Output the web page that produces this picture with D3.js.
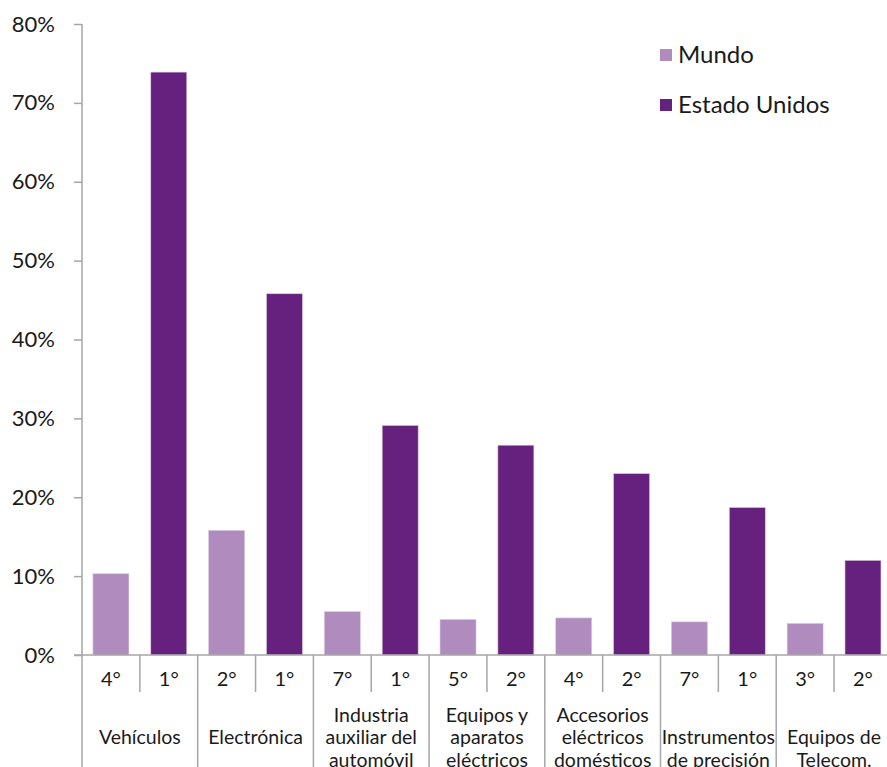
<!DOCTYPE html>
<html>
<head>
<meta charset="utf-8">
<script src="https://cdn.jsdelivr.net/npm/d3@7"></script>
<style>
	html, body { margin: 0; padding: 0; background: #fff; overflow: hidden; }
	text { font-family: Lato, "Open Sans", sans-serif; fill: #1a1a1a; }
</style>
</head>
<body>
<script>
	'use strict';

	// DATA //

	var categories = [
		'Vehículos',
		'Electrónica',
		'Industria\nauxiliar del\nautomóvil',
		'Equipos y\naparatos\neléctricos',
		'Accesorios\neléctricos\ndomésticos',
		'Instrumentos\nde precisión',
		'Equipos de\nTelecom.'
	];
	var seriesNames = [ 'Mundo', 'Estado Unidos' ];
	var mundo = [ 10.3, 15.8, 5.5, 4.5, 4.7, 4.2, 4.0 ];
	var estadosUnidos = [ 73.9, 45.8, 29.1, 26.6, 23.0, 18.7, 12.0 ];
	var rankMundo = [ '4°', '2°', '7°', '5°', '4°', '7°', '3°' ];
	var rankEEUU = [ '1°', '1°', '1°', '2°', '2°', '1°', '2°' ];
	var yTicks = [ 0, 10, 20, 30, 40, 50, 60, 70, 80 ];


	// VARIABLES //

	var WIDTH = 887,
		HEIGHT = 767,
		LEFT = 82,
		TOP = 24,
		BASE = 655,
		CAT_WIDTH = 115.7,
		COLORS = [ '#af8cbd', '#66217f' ],
		AXIS = '#a6a6a6';

	var svg = d3.select( 'body' ).append( 'svg' )
		.attr( 'width', WIDTH )
		.attr( 'height', HEIGHT );

	// Scales:
	var x0 = d3.scaleBand()
		.domain( d3.range( categories.length ) )
		.range( [ LEFT, LEFT + CAT_WIDTH * categories.length ] );

	var x1 = d3.scaleBand()
		.domain( seriesNames )
		.range( [ 0, x0.bandwidth() ] )
		.paddingInner( 0.378 )
		.paddingOuter( 0.189 );

	var y = d3.scaleLinear()
		.domain( [ 0, 80 ] )
		.range( [ BASE, TOP ] );

	var color = d3.scaleOrdinal()
		.domain( seriesNames )
		.range( COLORS );

	// Rows for bars:
	var rows = categories.map( function( c, i ) {
		return [
			{ cat: i, s: seriesNames[ 0 ], v: mundo[ i ], rank: rankMundo[ i ] },
			{ cat: i, s: seriesNames[ 1 ], v: estadosUnidos[ i ], rank: rankEEUU[ i ] }
		];
	});
	var flat = [].concat.apply( [], rows );

	// Y axis:
	var yAxis = d3.axisLeft( y )
		.tickValues( yTicks )
		.tickSize( 8 )
		.tickPadding( 19 )
		.tickFormat( function( d ) { return d + '%'; } );

	var gy = svg.append( 'g' )
		.attr( 'transform', 'translate(' + LEFT + ',0)' )
		.call( yAxis );
	gy.select( '.domain' ).remove();
	gy.selectAll( '.tick line' )
		.attr( 'stroke', AXIS )
		.attr( 'stroke-width', 1.5 );
	gy.selectAll( '.tick text' )
		.style( 'font-family', 'Lato, "Open Sans", sans-serif' )
		.style( 'font-size', '22px' )
		.attr( 'fill', '#1a1a1a' );

	// Bars:
	svg.append( 'g' )
		.selectAll( 'rect' )
		.data( flat )
		.enter().append( 'rect' )
		.attr( 'x', function( d ) { return x0( d.cat ) + x1( d.s ); } )
		.attr( 'y', function( d ) { return y( d.v ); } )
		.attr( 'width', x1.bandwidth() )
		.attr( 'height', function( d ) { return BASE - y( d.v ); } )
		.attr( 'fill', function( d ) { return color( d.s ); } )
		.attr( 'stroke', '#d9c9e0' )
		.attr( 'stroke-width', 0.6 );

	// Axis lines:
	var axes = svg.append( 'g' )
		.attr( 'stroke', AXIS )
		.attr( 'stroke-width', 1.5 );

	// vertical axis line (continues down as first separator):
	axes.append( 'line' )
		.attr( 'x1', LEFT ).attr( 'x2', LEFT )
		.attr( 'y1', TOP ).attr( 'y2', HEIGHT + 10 );

	// baseline:
	axes.append( 'line' )
		.attr( 'x1', LEFT - 8 ).attr( 'x2', x0.range()[ 1 ] )
		.attr( 'y1', BASE ).attr( 'y2', BASE );

	// Category separators:
	axes.selectAll( '.sep' )
		.data( d3.range( 1, categories.length + 1 ) )
		.enter().append( 'line' )
		.attr( 'x1', function( i ) { return LEFT + x0.step() * i; } )
		.attr( 'x2', function( i ) { return LEFT + x0.step() * i; } )
		.attr( 'y1', BASE ).attr( 'y2', HEIGHT + 10 );

	// Sub separators between bars:
	axes.selectAll( '.sub' )
		.data( d3.range( categories.length ) )
		.enter().append( 'line' )
		.attr( 'x1', function( i ) { return x0( i ) + x0.bandwidth() / 2; } )
		.attr( 'x2', function( i ) { return x0( i ) + x0.bandwidth() / 2; } )
		.attr( 'y1', BASE ).attr( 'y2', BASE + 37 );

	// Rank labels:
	svg.append( 'g' )
		.selectAll( 'text' )
		.data( flat )
		.enter().append( 'text' )
		.attr( 'x', function( d ) { return x0( d.cat ) + x1( d.s ) + x1.bandwidth() / 2; } )
		.attr( 'y', 686 )
		.attr( 'text-anchor', 'middle' )
		.style( 'font-size', '20px' )
		.text( function( d ) { return d.rank; } );

	// Category labels:
	var catText = svg.append( 'g' )
		.selectAll( 'text' )
		.data( categories )
		.enter().append( 'text' )
		.attr( 'text-anchor', 'middle' )
		.style( 'font-size', '19.5px' );

	catText.each( function( c, i ) {
		var lines = c.split( '\n' ),
			y0 = 744 - Math.floor( ( lines.length - 1 ) / 2 ) * 22.5,
			t = d3.select( this );
		lines.forEach( function( line, k ) {
			t.append( 'tspan' )
				.attr( 'x', x0( i ) + x0.bandwidth() / 2 )
				.attr( 'y', y0 + k * 22.5 )
				.text( line );
		});
	});

	// Legend:
	var legend = svg.append( 'g' )
		.selectAll( 'g' )
		.data( seriesNames )
		.enter().append( 'g' )
		.attr( 'transform', function( d, i ) { return 'translate(660,' + ( 49 + i * 50 ) + ')'; } );

	legend.append( 'rect' )
		.attr( 'width', 12 )
		.attr( 'height', 12 )
		.attr( 'fill', function( d ) { return color( d ); } );

	legend.append( 'text' )
		.attr( 'x', 18 )
		.attr( 'y', 13.5 )
		.style( 'font-size', '24px' )
		.text( function( d ) { return d; } );
</script>
</body>
</html>
